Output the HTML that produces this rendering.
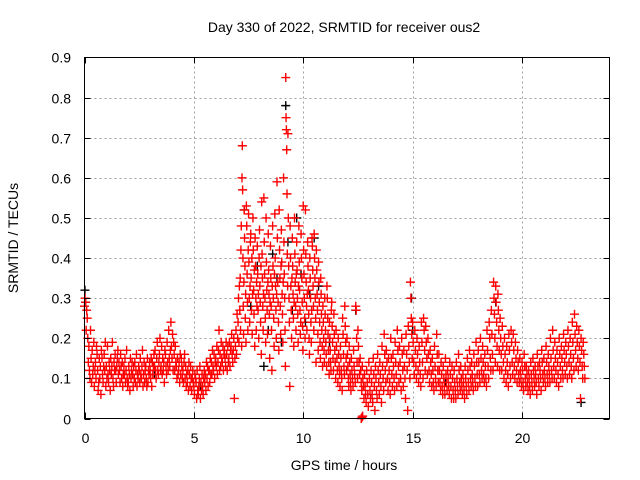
<!DOCTYPE html>
<html><head><meta charset="utf-8"><style>
body{margin:0;background:#fff;}
svg{display:block;font-family:"Liberation Sans",sans-serif;}
</style></head><body>
<svg id="chart" width="640" height="480" viewBox="0 0 640 480">
<rect width="640" height="480" fill="#fff"/>
<text x="344" y="32" font-size="14" text-anchor="middle" fill="#000">Day 330 of 2022, SRMTID for receiver ous2</text>
<g id="grid"></g>
<g id="marks"></g>
<rect x="84.5" y="57.5" width="525" height="361" fill="none" stroke="#000" stroke-width="1"/>
<g id="axes"></g>
<text x="344" y="470" font-size="14" text-anchor="middle">GPS time / hours</text>
<text x="18" y="238" font-size="14" text-anchor="middle" transform="rotate(-90 18 238)">SRMTID / TECUs</text>
</svg>
<script>
const xTicks=[0,5,10,15,20];
const yTicks=[0,0.1,0.2,0.3,0.4,0.5,0.6,0.7,0.8,0.9];
const yTickLabels=["0","0.1","0.2","0.3","0.4","0.5","0.6","0.7","0.8","0.9"];
const redHours=[0,0.1,0.2,0.3,0.4,0.5,0.6,0.7,0.8,0.9,1,1.1,1.2,1.3,1.4,1.5,1.6,1.7,1.8,1.9,2,2.1,2.2,2.3,2.4,2.5,2.6,2.7,2.8,2.9,3,3.1,3.2,3.3,3.4,3.5,3.6,3.7,3.8,3.9,4,4.1,4.2,4.3,4.4,4.5,4.6,4.7,4.8,4.9,5,5.1,5.2,5.3,5.4,5.5,5.6,5.7,5.8,5.9,6,6.1,6.2,6.3,6.4,6.5,6.6,6.7,6.8,6.9,7,7.1,7.2,7.3,7.4,7.5,7.6,7.7,7.8,7.9,8,8.1,8.2,8.3,8.4,8.5,8.6,8.7,8.8,8.9,9,9.1,9.2,9.3,9.4,9.5,9.6,9.7,9.8,9.9,10,10.1,10.2,10.3,10.4,10.5,10.6,10.7,10.8,10.9,11,11.1,11.2,11.3,11.4,11.5,11.6,11.7,11.8,11.9,12,12.1,12.2,12.3,12.4,12.5,12.6,12.65,12.7,12.8,12.9,13,13.1,13.2,13.3,13.4,13.5,13.6,13.7,13.8,13.9,14,14.1,14.2,14.3,14.4,14.5,14.6,14.7,14.8,14.9,15,15.1,15.2,15.3,15.4,15.5,15.6,15.7,15.8,15.9,16,16.1,16.2,16.3,16.4,16.5,16.6,16.7,16.8,16.9,17,17.1,17.2,17.3,17.4,17.5,17.6,17.7,17.8,17.9,18,18.1,18.2,18.3,18.4,18.5,18.6,18.7,18.8,18.9,19,19.1,19.2,19.3,19.4,19.5,19.6,19.7,19.8,19.9,20,20.1,20.2,20.3,20.4,20.5,20.6,20.7,20.8,20.9,21,21.1,21.2,21.3,21.4,21.5,21.6,21.7,21.8,21.9,22,22.1,22.2,22.3,22.4,22.5,22.6,22.7,22.8];
const redValues=[
[.28,.30,.29,.22],[.27,.25,.20,.14],[.18,.12,.10,.22],[.15,.09,.17,.11],[.13,.19,.08,.12],[.14,.10,.18,.16],[.12,.07,.09,.15],[.10,.13,.06,.17],[.15,.11,.09,.13],[.16,.12,.19,.08],
[.13,.10,.18,.11],[.09,.14,.12,.07],[.15,.11,.13,.19],[.10,.08,.14,.12],[.16,.12,.09,.13],[.15,.17,.11,.14],[.12,.09,.16,.13],[.10,.14,.08,.11],[.13,.11,.15,.09],[.12,.17,.10,.08],
[.09,.13,.11,.07],[.15,.10,.12,.14],[.11,.08,.13,.10],[.14,.09,.12,.16],[.08,.11,.10,.13],[.12,.09,.15,.11],[.10,.13,.17,.08],[.11,.14,.09,.12],[.13,.10,.08,.15],[.09,.12,.11,.14],
[.12,.10,.15,.08],[.14,.11,.13,.16],[.13,.17,.12,.10],[.15,.19,.12,.11],[.14,.16,.20,.12],[.13,.18,.11,.15],[.12,.14,.09,.17],[.16,.13,.11,.19],[.14,.12,.22,.15],[.13,.17,.24,.18],
[.15,.21,.12,.19],[.16,.12,.18,.14],[.13,.10,.15,.11],[.12,.14,.09,.16],[.11,.15,.13,.10],[.12,.09,.14,.16],[.10,.13,.08,.11],[.09,.12,.07,.14],[.11,.08,.13,.10],[.07,.10,.12,.09],
[.08,.06,.11,.10],[.09,.05,.12,.07],[.06,.08,.10,.13],[.05,.09,.07,.11],[.08,.06,.10,.12],[.09,.11,.07,.14],[.10,.13,.08,.12],[.12,.09,.15,.11],[.14,.11,.17,.13],[.12,.16,.10,.14],
[.15,.13,.18,.11],[.14,.17,.22,.12],[.16,.13,.19,.15],[.14,.18,.12,.16],[.17,.15,.13,.19],[.16,.12,.18,.14],[.15,.19,.13,.17],[.18,.21,.16,.14],[.17,.20,.05,.15],[.18,.22,.16,.26],
[.20,.24,.30,.19,.33],[.27,.35,.22,.42,.48,.18],[.60,.68,.57,.40,.28,.21,.34],[.52,.45,.38,.25,.31,.19],[.53,.48,.36,.29,.22,.42],[.51,.39,.30,.24,.33,.44],[.46,.35,.27,.40,.21,.31],[.50,.42,.32,.26,.37,.18],[.45,.38,.30,.22,.34,.28],[.43,.36,.27,.31,.20,.40],
[.47,.33,.29,.24,.38,.16],[.54,.41,.35,.28,.22,.31],[.55,.44,.36,.30,.25,.19],[.50,.39,.32,.27,.21,.34],[.46,.37,.31,.26,.15,.29],[.43,.35,.28,.22,.12,.33],[.48,.38,.30,.25,.18,.36],[.51,.40,.33,.27,.20,.31],[.59,.45,.34,.29,.24,.17],[.52,.42,.35,.28,.21,.38],
[.47,.39,.31,.26,.19,.34],[.60,.44,.36,.30,.22,.13],[.85,.75,.72,.67,.56,.41,.33],[.71,.50,.38,.30,.24,.08],[.48,.40,.33,.27,.20,.35],[.45,.38,.31,.25,.18,.29],[.50,.41,.34,.28,.22,.36],[.44,.37,.30,.26,.19,.33],[.48,.39,.32,.27,.21,.24],[.46,.40,.35,.29,.23,.17],
[.53,.42,.36,.30,.25,.20],[.52,.41,.34,.28,.22,.31],[.44,.38,.32,.26,.20,.16],[.40,.35,.30,.24,.19,.27],[.45,.43,.37,.33,.28,.22],[.46,.40,.35,.30,.25,.14],[.42,.37,.31,.27,.21,.17],[.39,.34,.29,.24,.19,.15],[.35,.31,.26,.22,.18,.13],[.28,.24,.20,.17,.14,.30],
[.26,.22,.19,.16,.13,.33],[.30,.25,.21,.17,.14,.11],[.24,.20,.17,.14,.12,.27],[.29,.23,.19,.15,.12],[.26,.21,.17,.14,.10],[.22,.18,.15,.12,.09],[.20,.16,.13,.11,.08],[.18,.15,.12,.10,.07],[.25,.21,.16,.13,.11],[.28,.23,.19,.15,.12],
[.20,.16,.13,.10,.08],[.18,.14,.11,.09,.07],[.15,.12,.10,.08],[.17,.13,.11,.09],[.28,.27,.20,.14,.10],[.22,.18,.14,.11],[.15,.12,.09,.07],[0,0.003,0.006],
[.13,.10,.08,.05],[.11,.08,.06,.04],[.12,.09,.06,.03],[.14,.10,.07,.05],[.12,.09,.06,.04],[.15,.11,.08,.02],[.13,.10,.07,.05],[.16,.12,.09,.06],[.14,.11,.08,.04],[.18,.13,.10,.07],
[.21,.16,.12,.09],[.17,.14,.10,.07],[.15,.12,.09,.06],[.20,.15,.11,.08],[.16,.13,.10,.07],[.19,.14,.11,.08],[.22,.17,.13,.09],[.18,.14,.10,.07],[.20,.16,.12,.08],[.17,.13,.10,.05],
[.21,.16,.12,.02],[.23,.18,.14,.10],[.34,.30,.25,.21,.15],[.24,.19,.14,.11],[.22,.17,.13,.10],[.20,.16,.12,.09],[.18,.14,.11,.08],[.24,.19,.14,.10],[.25,.22,.17,.12],[.23,.19,.15,.11],
[.20,.16,.12,.09],[.17,.14,.11,.08],[.15,.12,.09,.07],[.18,.13,.10,.08],[.21,.16,.12,.09],[.16,.12,.09,.07],[.14,.11,.08,.06],[.13,.10,.08,.06],[.15,.11,.09,.07],[.12,.10,.08,.06],
[.14,.11,.08,.05],[.13,.10,.07,.05],[.12,.09,.07,.05],[.14,.10,.08,.06],[.16,.12,.09,.07],[.13,.10,.08,.06],[.11,.09,.07,.05],[.13,.10,.08,.06],[.15,.12,.09,.07],[.17,.13,.10,.08],
[.14,.11,.09,.07],[.16,.13,.10,.08],[.19,.14,.11,.08],[.17,.14,.11,.09],[.20,.15,.12,.10],[.18,.14,.11,.09],[.16,.13,.10,.08],[.22,.17,.13,.10],[.24,.20,.15,.12],[.27,.21,.16,.12],
[.34,.30,.26,.20,.14],[.33,.29,.24,.18,.13],[.31,.27,.22,.17,.12],[.25,.20,.16,.12],[.23,.18,.14,.10],[.20,.16,.12,.09],[.18,.14,.11,.08],[.21,.17,.13,.10],[.22,.19,.14,.11],[.21,.17,.13,.10],
[.19,.15,.12,.09],[.17,.14,.11,.09],[.15,.12,.10,.08],[.14,.12,.09,.07],[.16,.13,.10,.08],[.13,.11,.09,.07],[.12,.10,.08,.06],[.14,.11,.09,.07],[.15,.12,.10,.08],[.13,.11,.09,.06],
[.16,.13,.10,.08],[.14,.12,.10,.07],[.17,.14,.11,.09],[.15,.12,.10,.08],[.18,.14,.11,.09],[.16,.13,.11,.09],[.20,.15,.12,.10],[.22,.17,.13,.10],[.19,.15,.12,.09],[.17,.14,.11,.08],
[.20,.16,.13,.10],[.18,.15,.12,.10],[.21,.17,.14,.11],[.19,.16,.13,.10],[.22,.18,.14,.11],[.20,.16,.13,.10],[.24,.19,.15,.12],[.26,.21,.17,.13],[.23,.19,.15,.12],[.22,.18,.14,.05],
[.20,.17,.13,.10],[.19,.16,.13,.10]];
const blackHours=[0.02,0.05,7.3,7.6,7.9,8.2,8.4,8.6,8.8,9.0,9.2,9.3,9.5,9.7,9.9,10.1,10.3,10.5,10.7,11.2,12.4,14.95,15.0,18.8,22.7,3.2,5.3,16.5];
const blackValues=[0.32,0.29,0.52,0.28,0.38,0.13,0.22,0.41,0.35,0.19,0.78,0.44,0.27,0.50,0.36,0.24,0.31,0.45,0.33,0.19,0.27,0.30,0.22,0.29,0.04,0.11,0.08,0.09];

const X0=84.5,X1=609.5,Y0=418.5,Y1=57.5,XMAX=24,YMAX=0.9;
function xs(h){return X0+(X1-X0)*h/XMAX;}
function ys(v){return Y0-(Y0-Y1)*v/YMAX;}
const NS="http://www.w3.org/2000/svg";
function mk(tag,attrs,parent){const e=document.createElementNS(NS,tag);for(const k in attrs)e.setAttribute(k,attrs[k]);parent.appendChild(e);return e;}
const grid=document.getElementById('grid'),axes=document.getElementById('axes'),marks=document.getElementById('marks');
yTicks.forEach((v,i)=>{
  const y=Math.round(ys(v))+0.5;
  if(v>0&&v<YMAX){const g=mk('line',{x1:X0,x2:X1,y1:y,y2:y,stroke:'#a0a0a0','stroke-dasharray':'2,3','stroke-width':1},grid);
  
  }
  const t=mk('line',{x1:X0,x2:X0+6,y1:y,y2:y,stroke:'#000'},axes);
  
  
  const t2=mk('line',{x1:X1-6,x2:X1,y1:y,y2:y,stroke:'#000'},axes);
  
  
  const l=mk('text',{x:71,y:y+5,'font-size':14,'text-anchor':'end'},axes);
  l.textContent=yTickLabels[i];
  
  
});
xTicks.forEach(h=>{
  const x=Math.round(xs(h))+0.5;
  if(h>0){const g=mk('line',{x1:x,x2:x,y1:Y0,y2:Y1,stroke:'#a0a0a0','stroke-dasharray':'2,3','stroke-width':1},grid);
  
  }
  const t=mk('line',{x1:x,x2:x,y1:Y0,y2:Y0-6,stroke:'#000'},axes);
  
  
  const t2=mk('line',{x1:x,x2:x,y1:Y1,y2:Y1+6,stroke:'#000'},axes);
  
  
  const l=mk('text',{x:x,y:443,'font-size':14,'text-anchor':'middle'},axes);
  l.textContent=String(h);
  
  
});
function plus(h,v,color,name){
  const x=xs(h),y=ys(v);
  const p=mk('path',{d:`M${x-4.5},${y}H${x+4.5}M${x},${y-4.5}V${y+4.5}`,stroke:color,'stroke-width':1.4,fill:'none'},marks);
  
  
}
blackHours.forEach((h,i)=>plus(h,blackValues[i],'#000','black-point'));
redHours.forEach((h,i)=>{
  const vals=redValues[i];
  vals.forEach((v,j)=>plus(h+0.1*j/vals.length,v,'#ff0000','red-point'));
});
</script>
</body></html>
